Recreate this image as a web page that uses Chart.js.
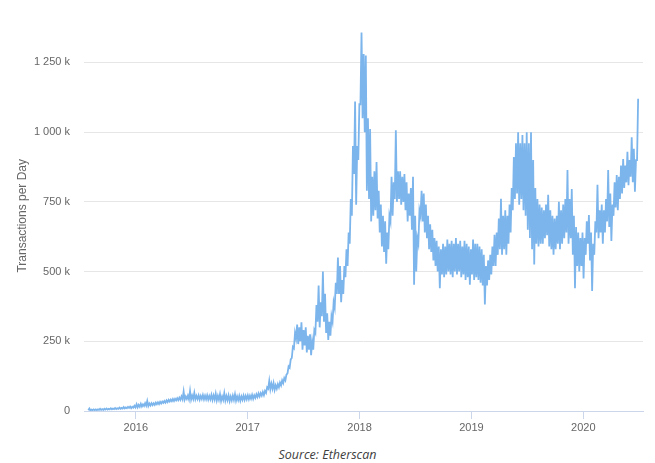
<!DOCTYPE html>
<html>
<head>
<meta charset="utf-8">
<title>Ethereum transactions per day</title>
<script src="https://cdn.jsdelivr.net/npm/chart.js@4.4.1/dist/chart.umd.min.js"></script>
<style>
    body { margin: 0; background: #ffffff; }
    #wrap { position: relative; width: 655px; height: 440px; }
    #source {
        position: absolute; left: 0; top: 446px; width: 655px;
        text-align: center; line-height: 18px;
        font-family: "Open Sans", sans-serif; font-style: italic;
        font-size: 12.5px; color: #404040;
    }
</style>
</head>
<body>
<div id="wrap"><canvas id="myChartTx"></canvas></div>
<div id="source">Source: Etherscan</div>

<script>
//DATA: DAILY TRANSACTIONS (THOUSANDS), WEEKLY LOW AND HIGH, FIRST WEEK 2015-07-30
const firstWeek = '2015-07-30';

const lo2015 = [3, 2, 3, 3, 3, 4, 4, 4, 5, 5, 6, 6, 7, 7, 8, 8, 9, 9, 10, 11, 10, 12, 13];
const hi2015 = [9, 5, 6, 6, 6, 8, 7, 8, 9, 8, 10, 9, 11, 10, 12, 11, 14, 13, 15, 16, 15, 19, 24];

const lo2016 = [13, 15, 16, 18, 19, 18, 20, 21, 22, 24, 25, 27, 29, 30, 32, 34, 35, 36, 38, 39,
    40, 42, 41, 43, 42, 41, 43, 42, 43, 41, 43, 42, 42, 41, 42, 40, 41, 38, 40, 36,
    40, 38, 39, 36, 38, 40, 37, 39, 37, 40, 40, 42];
const hi2016 = [22, 26, 24, 28, 36, 27, 28, 28, 30, 31, 33, 34, 36, 38, 40, 41, 43, 44, 46, 48,
    52, 70, 52, 55, 72, 55, 65, 54, 56, 54, 57, 55, 56, 54, 58, 56, 62, 54, 60, 52,
    64, 54, 56, 52, 55, 60, 52, 54, 52, 55, 54, 56];

const lo2017 = [42, 44, 44, 47, 50, 52, 55, 57, 65, 80, 78, 80, 76, 80, 85, 92, 100, 110, 135, 155,
    190, 225, 260, 240, 250, 220, 235, 210, 220, 200, 220, 280, 320, 300, 340, 320, 280, 255, 270, 320,
    370, 420, 420, 390, 420, 480, 520, 600, 700, 850, 740, 900];
const hi2017 = [55, 58, 56, 60, 63, 64, 68, 72, 85, 108, 98, 100, 92, 96, 102, 110, 118, 130, 160, 185,
    230, 280, 310, 300, 318, 290, 300, 270, 275, 250, 290, 380, 450, 390, 500, 420, 350, 320, 340, 390,
    460, 550, 520, 470, 520, 580, 640, 760, 950, 1110, 950, 1100];

const lo2018 = [1100, 1050, 1000, 790, 760, 680, 700, 720, 690, 640, 590, 570, 528, 580, 680, 700, 760, 750, 760, 740,
    750, 720, 680, 700, 650, 453, 500, 600, 700, 680, 640, 620, 580, 570, 540, 520, 500, 440, 490, 480,
    490, 500, 490, 480, 500, 490, 500, 480, 490, 470, 480, 453];
const hi2018 = [1357, 1280, 1275, 1050, 1011, 840, 860, 893, 790, 740, 700, 680, 640, 700, 840, 820, 1007, 860, 860, 840,
    850, 820, 780, 800, 840, 700, 620, 720, 790, 780, 740, 700, 670, 650, 620, 610, 590, 580, 600, 590,
    615, 600, 610, 600, 620, 600, 610, 590, 610, 600, 590, 580];

const lo2019 = [490, 470, 480, 470, 460, 450, 382, 450, 470, 490, 520, 520, 560, 580, 560, 580, 560, 600, 640, 720,
    760, 780, 740, 760, 720, 700, 650, 620, 580, 525, 600, 590, 600, 600, 620, 630, 590, 580, 560, 580,
    600, 580, 600, 620, 640, 600, 620, 560, 440, 520, 500, 520];
const hi2019 = [615, 600, 600, 590, 580, 560, 520, 540, 560, 590, 632, 640, 690, 761, 700, 720, 700, 740, 800, 911,
    960, 1000, 960, 990, 960, 1000, 960, 1000, 900, 800, 760, 740, 730, 720, 740, 775, 720, 700, 690, 700,
    750, 720, 740, 760, 864, 760, 796, 700, 660, 640, 620, 640];

const lo2020 = [475, 560, 600, 540, 430, 560, 640, 620, 640, 600, 640, 680, 660, 610, 700, 730, 720, 760, 780, 800,
    820, 810, 840, 820, 786, 900];
const hi2020 = [620, 680, 703, 640, 600, 680, 811, 720, 740, 720, 760, 864, 780, 740, 820, 846, 840, 880, 904, 880,
    930, 900, 982, 940, 900, 1120];

const yearTicks = [2016, 2017, 2018, 2019, 2020];
const valueTicks = [0, 250, 500, 750, 1000, 1250];


//DATE TO DECIMAL YEAR
const toYear = (ms) => {
    let y = new Date(ms).getUTCFullYear();
    let start = Date.UTC(y, 0, 1);
    let end = Date.UTC(y + 1, 0, 1);
    return y + (ms - start) / (end - start);
}

//BUILD POINTS: LOW AT START OF WEEK, HIGH HALF A WEEK LATER
const buildPoints = () => {
    let lows = [].concat(lo2015, lo2016, lo2017, lo2018, lo2019, lo2020);
    let highs = [].concat(hi2015, hi2016, hi2017, hi2018, hi2019, hi2020);
    let first = Date.parse(firstWeek + 'T00:00:00Z');
    let day = 86400000;
    let points = [];
    for (let i = 0; i < lows.length; i++) {
        let t = first + i * 7 * day;
        points.push({ x: toYear(t), y: lows[i] });
        points.push({ x: toYear(t + 3.5 * day), y: highs[i] });
    }
    return points;
}

const formatK = (v) => {
    if (v === 0) return '0';
    return String(v).replace(/\B(?=(\d{3})+(?!\d))/g, ' ') + ' k';
}

Chart.defaults.font.family = '"Liberation Sans", Arial, sans-serif';
Chart.defaults.color = '#666666';

const ctx = document.getElementById('myChartTx');

new Chart(ctx, {
    type: 'line',
    data: {
        datasets: [{
            label: 'Transactions per Day',
            data: buildPoints(),
            borderColor: '#7cb5ec',
            borderWidth: 1.8,
            pointRadius: 0,
            tension: 0,
            fill: false
        }]
    },
    options: {
        responsive: true,
        maintainAspectRatio: false,
        animation: false,
        layout: {
            padding: { top: 17, right: 12, bottom: 0, left: 0 }
        },
        plugins: {
            legend: { display: false },
            tooltip: { enabled: false }
        },
        scales: {
            x: {
                type: 'linear',
                min: 2015.537,
                max: 2020.534,
                afterBuildTicks: (s) => { s.ticks = yearTicks.map(v => ({ value: v })); },
                afterFit: (s) => { s.height = 29; },
                grid: {
                    drawOnChartArea: false,
                    drawTicks: true,
                    tickLength: 8,
                    color: '#ccd6eb'
                },
                border: { color: '#ccd6eb', width: 1 },
                ticks: {
                    padding: 2,
                    maxRotation: 0,
                    font: { size: 11 },
                    color: '#666666',
                    callback: (v) => String(v)
                }
            },
            y: {
                min: 0,
                max: 1400,
                afterBuildTicks: (s) => { s.ticks = valueTicks.map(v => ({ value: v })); },
                afterFit: (s) => { s.width = 84; },
                grid: {
                    color: '#e6e6e6',
                    drawTicks: false
                },
                border: { display: false },
                ticks: {
                    padding: 14,
                    font: { size: 11 },
                    color: '#666666',
                    callback: (v) => formatK(v)
                },
                title: {
                    display: true,
                    text: 'Transactions per Day',
                    color: '#666666',
                    font: { size: 12 },
                    padding: { top: 15, bottom: 0 }
                }
            }
        }
    }
});
</script>
</body>
</html>
